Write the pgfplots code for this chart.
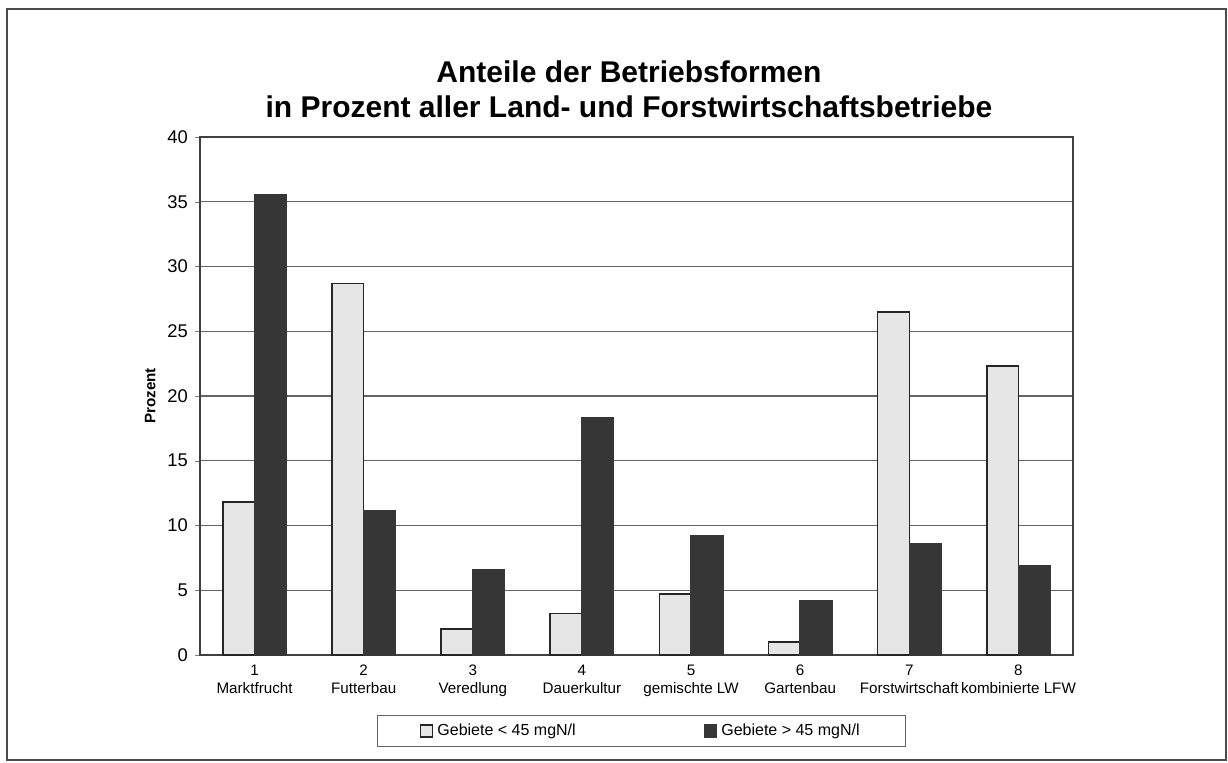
\documentclass[border=0pt]{standalone}
\usepackage{pgfplots}
\pgfplotsset{compat=1.18}
\usepackage{fontspec}
\setmainfont{Liberation Sans}
\definecolor{lightbar}{HTML}{E6E6E6}
\definecolor{darkbar}{HTML}{363636}
\begin{document}
\begin{tikzpicture}[x=1pt,y=1pt]
\useasboundingbox (0,0) rectangle (614,381);
\draw[line width=1pt, color=black!70] (3.5,1) rectangle (613,376.5);
\node[font=\fontsize{15}{17.5}\selectfont\bfseries, align=center] at (314.5,336.2) {Anteile der Betriebsformen\\in Prozent aller Land- und Forstwirtschaftsbetriebe};
\begin{axis}[
  at={(100pt,53.5pt)}, anchor=south west, scale only axis,
  width=436.5pt, height=259pt,
  xmin=-0.5, xmax=7.5, ymin=0, ymax=40,
  ytick={0,5,...,40},
  xtick={0,...,7},
  xticklabels={1\\Marktfrucht,2\\Futterbau,3\\Veredlung,4\\Dauerkultur,5\\gemischte LW,6\\Gartenbau,7\\Forstwirtschaft,8\\kombinierte LFW},
  x tick label style={align=center, font=\fontsize{7.6}{9}\selectfont, yshift=1pt},
  y tick label style={font=\fontsize{9.2}{11}\selectfont},
  /pgf/number format/assume math mode=true,
  tick align=outside, major tick length=2.5pt,
  xtick style={draw=none},
  extra x ticks={0.5,1.5,...,6.5},
  extra x tick labels={},
  extra x tick style={tick align=inside, major tick style={draw=black!70}},
  ytick pos=left, xtick pos=bottom,
  ymajorgrids, grid style={black!60, line width=0.7pt},
  axis line style={black!75, line width=1pt},
  ylabel={\bfseries Prozent},
  ylabel style={at={(axis description cs:-0.057,0.5)}, anchor=center, font=\fontsize{7.6}{9}\selectfont},
  ybar=0pt, bar width=0.29,
  legend style={at={(0.506,-0.116)}, anchor=north, legend columns=2, draw=black!60, line width=0.6pt,
    font=\fontsize{8}{9.6}\selectfont, inner xsep=21pt, inner ysep=2pt,
    /tikz/every even column/.append style={column sep=62pt}},
  legend cell align=left,
  legend image code/.code={\draw[#1, line width=0.8pt] (0pt,-3pt) rectangle (6pt,3pt);},
]
\addplot[fill=lightbar, draw=black!85, line width=0.8pt] coordinates {(0,11.8) (1,28.7) (2,2.0) (3,3.2) (4,4.7) (5,1.0) (6,26.5) (7,22.3)};
\addplot[fill=darkbar, draw=darkbar, line width=0.8pt] coordinates {(0,35.5) (1,11.1) (2,6.6) (3,18.3) (4,9.2) (5,4.2) (6,8.6) (7,6.9)};
\legend{Gebiete < 45 mgN/l, Gebiete > 45 mgN/l}
\end{axis}
\end{tikzpicture}
\end{document}
